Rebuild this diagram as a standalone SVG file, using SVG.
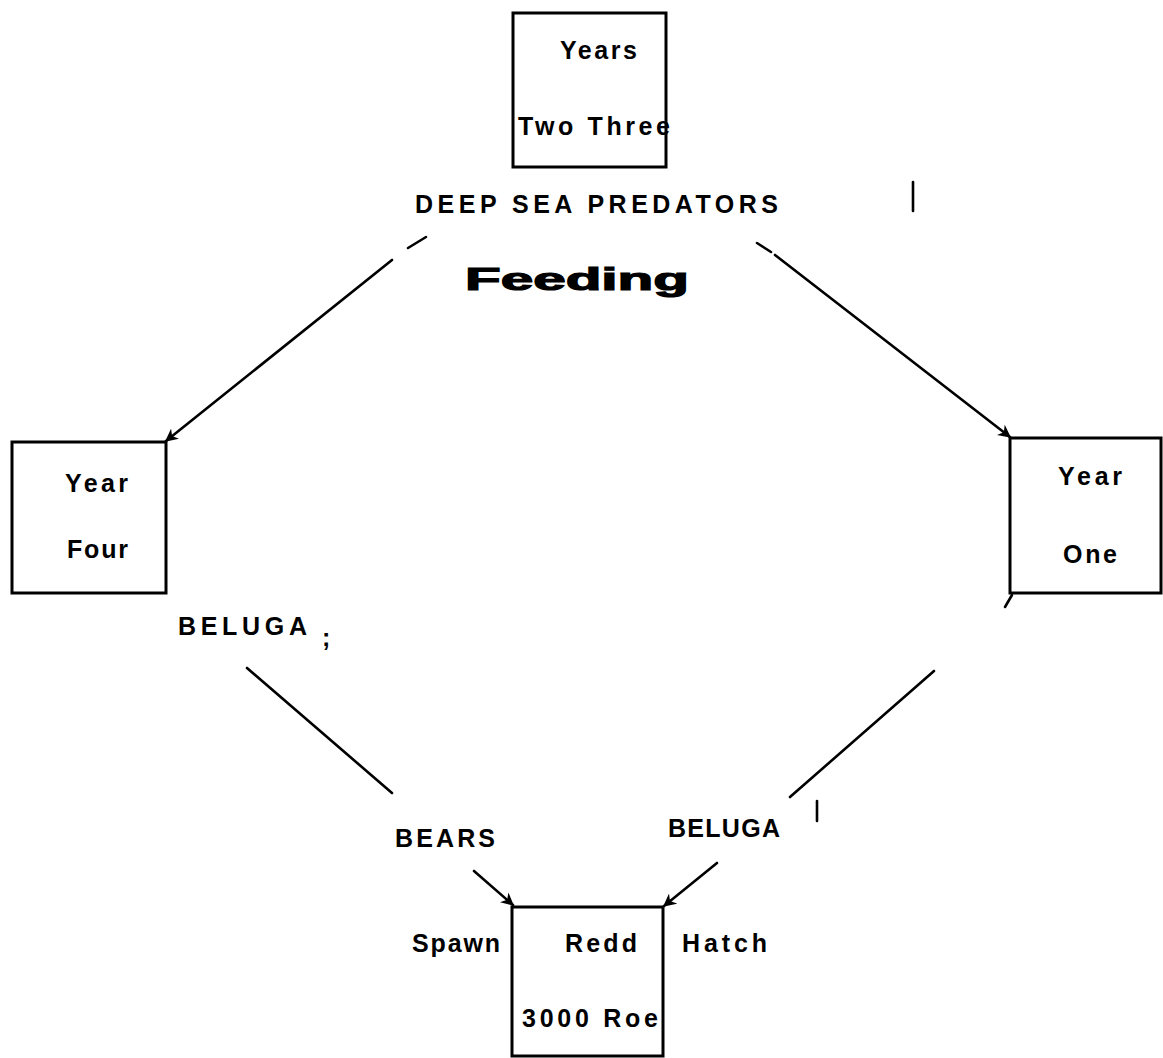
<svg xmlns="http://www.w3.org/2000/svg" width="1163" height="1058" viewBox="0 0 1163 1058">
<style>
  .box { fill: none; stroke: #000; stroke-width: 3; }
  .ln { fill: none; stroke: #000; stroke-width: 2.6; stroke-linecap: round; }
  .t { font-family: "Liberation Sans", Arial, sans-serif; font-weight: bold; font-size: 25px; fill: #000; }
  .big { font-family: "Liberation Sans", Arial, sans-serif; font-weight: 900; font-size: 31px; fill: #000; stroke: #000; stroke-width: 1.2; }
</style>
<defs>
  <marker id="ah" viewBox="0 0 10 10" refX="9" refY="5" markerWidth="5" markerHeight="5" orient="auto" markerUnits="strokeWidth">
    <path d="M0,0 L10,5 L0,10 L3,5 Z" fill="#000"/>
  </marker>
</defs>
<rect width="1163" height="1058" fill="#fff"/>

<g id="connectors">
  <line class="ln" x1="392" y1="260" x2="166" y2="441" marker-end="url(#ah)"/>
  <line class="ln" x1="408" y1="248" x2="426" y2="237"/>
  <line class="ln" x1="757" y1="243" x2="771" y2="252"/>
  <line class="ln" x1="775" y1="255" x2="1010" y2="437" marker-end="url(#ah)"/>
  <line class="ln" x1="1012" y1="595" x2="1005" y2="607"/>
  <line class="ln" x1="934" y1="671" x2="790" y2="797"/>
  <line class="ln" x1="717" y1="863" x2="664" y2="906" marker-end="url(#ah)"/>
  <line class="ln" x1="247" y1="668" x2="392" y2="793"/>
  <line class="ln" x1="474" y1="871" x2="513" y2="905" marker-end="url(#ah)"/>
  <line class="ln" x1="913" y1="182" x2="913" y2="211" stroke-width="2"/>
  <line class="ln" x1="817" y1="801" x2="817" y2="821" stroke-width="2"/>
</g>

<g id="node-years">
  <rect class="box" x="513" y="13" width="153" height="154"/>
  <text class="t" x="560" y="59" textLength="77" lengthAdjust="spacing">Years</text>
  <text class="t" x="518" y="135" textLength="152" lengthAdjust="spacing">Two Three</text>
</g>

<g id="node-year-four">
  <rect class="box" x="12" y="442" width="154" height="151"/>
  <text class="t" x="65" y="492" textLength="63" lengthAdjust="spacing">Year</text>
  <text class="t" x="67" y="558" textLength="61" lengthAdjust="spacing">Four</text>
</g>

<g id="node-year-one">
  <rect class="box" x="1010" y="438" width="151" height="155"/>
  <text class="t" x="1058" y="485" textLength="64" lengthAdjust="spacing">Year</text>
  <text class="t" x="1063" y="563" textLength="54" lengthAdjust="spacing">One</text>
</g>

<g id="node-redd">
  <rect class="box" x="512" y="907" width="151" height="149"/>
  <text class="t" x="565" y="952" textLength="72" lengthAdjust="spacing">Redd</text>
  <text class="t" x="522" y="1027" textLength="136" lengthAdjust="spacing">3000 Roe</text>
</g>

<g id="labels">
  <text class="t" x="415" y="213" textLength="363" lengthAdjust="spacing">DEEP SEA PREDATORS</text>
  <text class="big" x="465" y="290" textLength="224" lengthAdjust="spacingAndGlyphs">Feeding</text>
  <text class="t" x="178" y="635" textLength="129" lengthAdjust="spacing">BELUGA</text>
  <text class="t" x="322" y="646">;</text>
  <text class="t" x="395" y="847" textLength="100" lengthAdjust="spacing">BEARS</text>
  <text class="t" x="668" y="837" textLength="112" lengthAdjust="spacing">BELUGA</text>
  <text class="t" x="412" y="952" textLength="88" lengthAdjust="spacing">Spawn</text>
  <text class="t" x="682" y="952" textLength="85" lengthAdjust="spacing">Hatch</text>
</g>
</svg>
